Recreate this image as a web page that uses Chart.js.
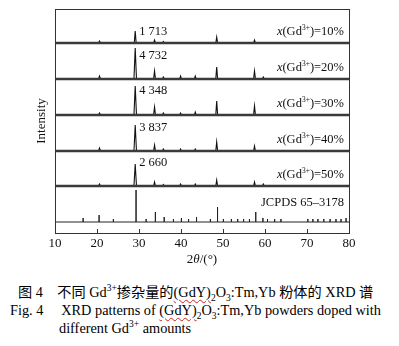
<!DOCTYPE html>
<html>
<head>
<meta charset="utf-8">
<script src="https://cdn.jsdelivr.net/npm/chart.js@4"></script>
<style>
  html, body { margin: 0; padding: 0; background: #fff; }
  body { width: 399px; height: 346px; position: relative; overflow: hidden; }
  #wrap { position: absolute; left: 0; top: 0; width: 399px; height: 270px; }
  .cap { position: absolute; white-space: nowrap; color: #000;
         font-family: "Liberation Serif", "Noto Sans CJK SC", serif; font-size: 14.3px; line-height: 17px; }
  .cjk { font-family: "Noto Sans CJK SC", sans-serif; font-size: 14.2px; }
  .wavy { text-decoration: underline wavy #d02020; text-decoration-thickness: 1px; text-underline-offset: 2px; }
  sup, sub { font-size: 9.5px; line-height: 0; }
</style>
</head>
<body>
<div id="wrap"><canvas id="xrd" width="399" height="270"></canvas></div>

<div class="cap" style="left:18px; top:283px;"><span class="cjk">图</span> 4　<span class="cjk">不同</span> Gd<sup>3+</sup><span class="cjk">掺杂量的</span><span class="wavy">(GdY)</span><sub>2</sub>O<sub>3</sub>:Tm,Yb <span class="cjk">粉体的</span> XRD <span class="cjk">谱</span></div>
<div class="cap" style="left:10px; top:302px;">Fig. 4　 XRD patterns of <span class="wavy">(GdY)</span><sub>2</sub>O<sub>3</sub>:Tm,Yb powders doped with</div>
<div class="cap" style="left:59px; top:320px;">different Gd<sup>3+</sup> amounts</div>

<script>
// ---- data ----
const xTicks = [10, 20, 30, 40, 50, 60, 70, 80];

const dopings    = ['10%', '20%', '30%', '40%', '50%'];
const mainCounts = ['1 713', '4 732', '4 348', '3 837', '2 660'];

// peaks per pattern: 2θ and plotted height (a.u.)
const peakPos10 = [20.6, 29.1, 33.7, 35.8, 48.5, 57.5];
const peakInt10 = [2,    12,   3,    1.5,  6,    3];
const peakPos20 = [20.6, 29.1, 33.7, 35.8, 39.9, 43.4, 48.5, 57.5, 59.6];
const peakInt20 = [3,    31,   8,    2,    3,    3,    12,   8,    2];
const peakPos30 = [20.6, 29.1, 33.7, 35.8, 39.9, 43.4, 48.5, 57.5];
const peakInt30 = [2,    29,   8,    2,    2,    3,    14,   9];
const peakPos40 = [20.6, 29.1, 33.7, 35.8, 39.9, 43.4, 48.5, 57.5];
const peakInt40 = [3,    26,   6,    2,    2,    2,    9,    5];
const peakPos50 = [20.6, 29.1, 33.7, 35.8, 39.9, 43.4, 48.5, 57.5, 59.6];
const peakInt50 = [2,    22,   4,    1.5,  2,    2,    6,    4,    2];

// JCPDS 65-3178 reference sticks
const jcpdsPos = [16.7, 20.5, 23.9, 29.3, 31.7, 33.9, 36.0, 38.2, 40.1, 41.8, 43.7, 47.0, 48.7, 50.1,
                  52.0, 53.5, 54.9, 56.3, 57.8, 59.5, 60.6, 62.3, 63.8, 70.2, 71.4, 72.6, 74.0, 75.5,
                  76.9, 78.1, 79.3];
const jcpdsInt = [4, 7, 3, 32, 3, 10, 5, 3, 4, 3, 5, 3, 15, 3,
                  3, 3, 3, 3, 10, 4, 3, 3, 3, 3, 3, 3, 3, 3,
                  3, 3, 4];

// stacking offsets (plot units) for the patterns, top to bottom, and the sticks
const offsets = [190, 154, 118, 82, 47];
const jcpdsOffset = 11;

// ---- build datasets ----
function patternPoints(pos, inten, base) {
  const pts = [{ x: 10, y: base }];
  pos.forEach((p, i) => {
    const w = inten[i] > 15 ? 0.3 : 0.22;
    pts.push({ x: p - w, y: base }, { x: p, y: base + inten[i] }, { x: p + w, y: base });
  });
  pts.push({ x: 80, y: base });
  return pts;
}

function stickPoints(pos, inten, base) {
  const pts = [{ x: 10, y: base }];
  pos.forEach((p, i) => {
    pts.push({ x: p, y: base }, { x: p, y: base + inten[i] }, { x: p, y: base });
  });
  pts.push({ x: 80, y: base });
  return pts;
}

const peakSets = [
  [peakPos10, peakInt10], [peakPos20, peakInt20], [peakPos30, peakInt30],
  [peakPos40, peakInt40], [peakPos50, peakInt50]
];

const datasets = [];
peakSets.forEach((s, i) => {
  // thick dark band under each pattern, standing in for the noisy background
  datasets.push({
    data: [{ x: 10, y: offsets[i] }, { x: 80, y: offsets[i] }],
    borderColor: '#3a3a3a',
    borderWidth: 2.4,
    pointRadius: 0,
    showLine: true
  });
  datasets.push({
    label: dopings[i],
    data: patternPoints(s[0], s[1], offsets[i]),
    borderColor: '#111',
    borderWidth: 1.1,
    pointRadius: 0,
    showLine: true,
    tension: 0
  });
});
datasets.push({
  label: 'JCPDS 65-3178',
  data: stickPoints(jcpdsPos, jcpdsInt, jcpdsOffset),
  borderColor: '#222',
  borderWidth: 1,
  pointRadius: 0,
  showLine: true,
  tension: 0
});

// ---- frame, inward ticks and text labels ----
const decor = {
  id: 'decor',
  afterDraw(chart) {
    const { ctx, chartArea: a, scales: { x, y } } = chart;
    ctx.save();
    ctx.strokeStyle = '#333';
    ctx.lineWidth = 1;
    ctx.strokeRect(a.left + 0.5, a.top + 0.5, a.right - a.left, a.bottom - a.top);
    xTicks.forEach(t => {
      const px = Math.round(x.getPixelForValue(t)) + 0.5;
      ctx.beginPath();
      ctx.moveTo(px, a.bottom);
      ctx.lineTo(px, a.bottom - 4);
      ctx.stroke();
    });

    ctx.fillStyle = '#111';
    ctx.textBaseline = 'middle';

    // main-peak counts
    const countRise = [11, 23, 24, 23, 23];
    ctx.font = '12.5px "Liberation Serif"';
    ctx.textAlign = 'left';
    mainCounts.forEach((c, i) => {
      ctx.fillText(c, x.getPixelForValue(29.1) + 4, y.getPixelForValue(offsets[i] + countRise[i]));
    });

    // x(Gd3+)=NN% labels, right aligned
    const right = a.right - 5;
    dopings.forEach((d, i) => {
      const cy = y.getPixelForValue(offsets[i] + 11);
      const parts = [
        ['x', 'italic 12.5px "Liberation Serif"', 0],
        ['(Gd', '12.5px "Liberation Serif"', 0],
        ['3+', '7.5px "Liberation Serif"', -4],
        [')=' + d, '12.5px "Liberation Serif"', 0]
      ];
      let total = 0;
      parts.forEach(p => { ctx.font = p[1]; total += ctx.measureText(p[0]).width; });
      let cx = right - total;
      parts.forEach(p => {
        ctx.font = p[1];
        ctx.fillText(p[0], cx, cy + p[2]);
        cx += ctx.measureText(p[0]).width;
      });
    });

    ctx.font = '12.5px "Liberation Serif"';
    ctx.textAlign = 'right';
    ctx.fillText('JCPDS 65\u20133178', right, y.getPixelForValue(jcpdsOffset + 19));

    // x title: 2θ/(°) with italic θ
    const tParts = [['2', '13px "Liberation Serif"'], ['\u03b8', 'italic 13px "Liberation Serif"'],
                    ['/(\u00b0)', '13px "Liberation Serif"']];
    let tw = 0;
    tParts.forEach(p => { ctx.font = p[0] && p[1]; tw += ctx.measureText(p[0]).width; });
    let tx = (a.left + a.right) / 2 - tw / 2;
    ctx.textAlign = 'left';
    tParts.forEach(p => { ctx.font = p[1]; ctx.fillText(p[0], tx, 260); tx += ctx.measureText(p[0]).width; });

    // y title
    ctx.font = '13px "Liberation Serif"';
    ctx.translate(42, (a.top + a.bottom) / 2);
    ctx.rotate(-Math.PI / 2);
    ctx.textAlign = 'center';
    ctx.fillText('Intensity', 0, 0);
    ctx.restore();
  }
};

new Chart(document.getElementById('xrd'), {
  type: 'scatter',
  data: { datasets },
  options: {
    responsive: false,
    animation: false,
    layout: { padding: { left: 55, right: 50, top: 9, bottom: 0 } },
    plugins: { legend: { display: false }, tooltip: { enabled: false } },
    scales: {
      x: {
        type: 'linear',
        min: 10,
        max: 80,
        afterBuildTicks: s => { s.ticks = xTicks.map(v => ({ value: v })); },
        afterFit: s => { s.height = 37; },
        grid: { display: false, drawTicks: false },
        border: { display: false },
        ticks: { color: '#111', padding: 3, font: { family: 'Liberation Serif', size: 13 } }
      },
      y: {
        type: 'linear',
        min: 0,
        max: 224,
        display: false
      }
    }
  },
  plugins: [decor]
});
</script>
</body>
</html>
